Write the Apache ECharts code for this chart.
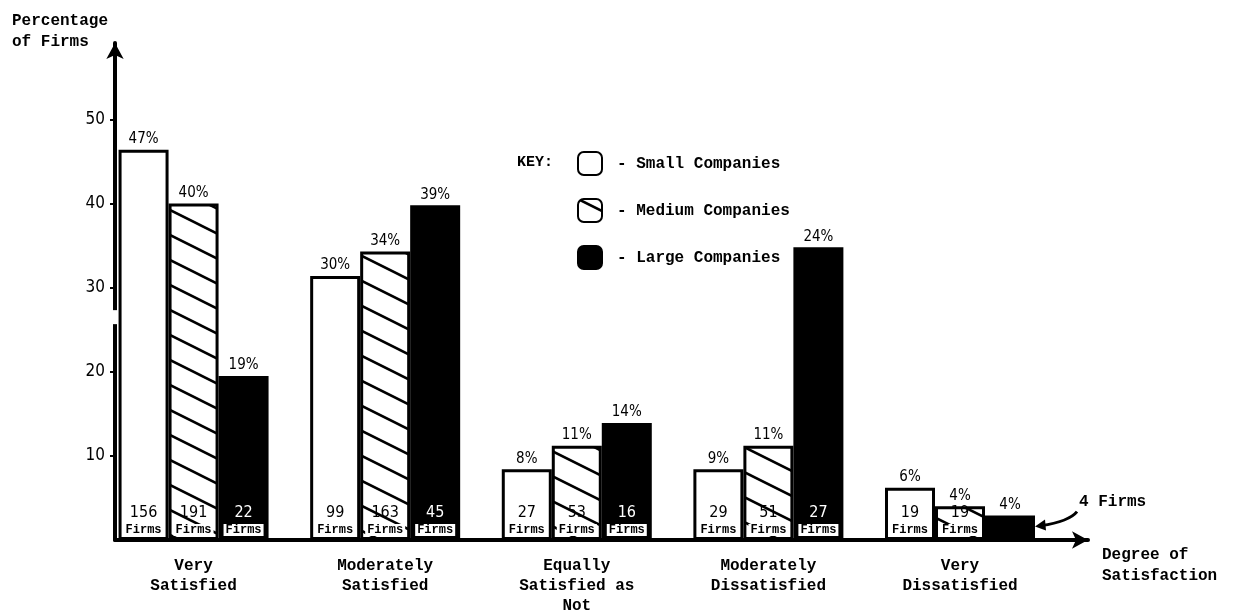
<!DOCTYPE html>
<html>
<head>
<meta charset="utf-8">
<script src="https://cdn.jsdelivr.net/npm/echarts@6/dist/echarts.min.js"></script>
<style>html,body{margin:0;padding:0;background:#fff}#c{width:1243px;height:616px}</style>
</head>
<body>
<div id="c"></div>
<script>
// ---- data ----
const categories = ['Very\nSatisfied', 'Moderately\nSatisfied', 'Equally\nSatisfied as\nNot', 'Moderately\nDissatisfied', 'Very\nDissatisfied'];
const seriesNames = ['Small Companies', 'Medium Companies', 'Large Companies'];
// drawn bar heights (percentage scale)
const smallHeights  = [46.4, 31.4, 8.4, 8.4, 6.2];
const mediumHeights = [40.0, 34.3, 11.2, 11.2, 4.0];
const largeHeights  = [19.5, 39.8, 13.9, 34.8, 2.9];
// percentage labels written above the bars
const smallPct  = ['47%', '30%', '8%', '9%', '6%'];
const mediumPct = ['40%', '34%', '11%', '11%', '4%'];
const largePct  = ['19%', '39%', '14%', '24%', '4%'];
// number of firms written inside the bars
const smallFirms  = [156, 99, 27, 29, 19];
const mediumFirms = [191, 163, 53, 51, 19];
const largeFirms  = [22, 45, 16, 27, 4];
const yTicks = [10, 20, 30, 40, 50];

const MONO = "'Liberation Mono','DejaVu Sans Mono',monospace";
const HAND = "'DejaVu Sans Condensed','DejaVu Sans',sans-serif";

function makeHatch() {
  const W = 50, H = 25;
  const c = document.createElement('canvas');
  c.width = W; c.height = H;
  const ctx = c.getContext('2d');
  ctx.fillStyle = '#fff';
  ctx.fillRect(0, 0, W, H);
  ctx.strokeStyle = '#000';
  ctx.lineWidth = 2.6;
  ctx.beginPath();
  for (let k = -1; k <= 1; k++) {
    ctx.moveTo(-3, k * H - 3 * H / W);
    ctx.lineTo(W + 3, k * H + H + 3 * H / W);
  }
  ctx.stroke();
  return c;
}
const hatch = { image: makeHatch(), repeat: 'repeat' };

const BW = 50;
function pts(arr) { return arr.map((v, i) => [i, v]); }

function mainSeries(name, heights, firms, style, dark) {
  return {
    name: name, type: 'bar', xAxisIndex: 0, yAxisIndex: 0,
    barWidth: BW, barGap: '0%',
    data: pts(heights).map((p, i) => {
      const d = { value: p };
      if (dark && firms[i] < 10) d.label = { show: false };
      return d;
    }),
    itemStyle: style,
    label: {
      show: true, position: 'insideBottom', distance: 3,
      formatter: (p) => '{n|' + firms[p.dataIndex] + '}\n{f|Firms}',
      rich: {
        n: { fontFamily: HAND, fontSize: 16, lineHeight: 20, color: dark ? '#fff' : '#000' },
        f: { fontFamily: MONO, fontWeight: 'bold', fontSize: 12, lineHeight: 14, color: '#000',
             backgroundColor: '#fff', padding: [0, 2, 0, 2] }
      }
    },
    z: 2
  };
}
function pctSeries(name, heights, pct) {
  return {
    name: name + ' pct', type: 'bar', xAxisIndex: 1, yAxisIndex: 0,
    barWidth: BW, barGap: '0%',
    data: pts(heights),
    itemStyle: { color: 'rgba(0,0,0,0)' },
    label: {
      show: true, position: 'top', distance: 3,
      formatter: (p) => pct[p.dataIndex],
      fontFamily: HAND, fontSize: 15, color: '#000'
    },
    silent: true, z: 3
  };
}

const chart = echarts.init(document.getElementById('c'));
const xBase = { type: 'value', min: -0.41, max: 4.668 };
chart.setOption({
  animation: false,
  backgroundColor: '#fff',
  title: [
    { text: 'Percentage\nof Firms', left: 7, top: 5,
      textStyle: { fontFamily: MONO, fontWeight: 'bold', fontSize: 16, lineHeight: 21, color: '#000' } },
    { text: 'KEY:', left: 512, top: 150,
      textStyle: { fontFamily: MONO, fontWeight: 'bold', fontSize: 15, color: '#000' } }
  ],
  legend: {
    data: seriesNames, orient: 'vertical', left: 572, top: 146,
    itemWidth: 24, itemHeight: 23, itemGap: 22, selectedMode: false,
    icon: 'roundRect',
    formatter: (n) => '- ' + n,
    textStyle: { fontFamily: MONO, fontWeight: 'bold', fontSize: 16, color: '#000', padding: [0, 0, 0, 10] }
  },
  grid: { left: 115, right: 155, top: 43, bottom: 75 },
  xAxis: [
    Object.assign({}, xBase, {
      name: 'Degree of\nSatisfaction', nameLocation: 'end', nameGap: 14,
      nameTextStyle: { fontFamily: MONO, fontWeight: 'bold', fontSize: 16, lineHeight: 21, color: '#000',
                       align: 'left', verticalAlign: 'top', padding: [4, 0, 0, 0] },
      axisLine: { show: true, onZero: false, symbol: ['none', 'arrow'], symbolSize: [13, 16],
                  lineStyle: { color: '#000', width: 4 } },
      axisTick: { show: false },
      splitLine: { show: false },
      axisLabel: { customValues: [0, 1, 2, 3, 4], formatter: (v) => categories[Math.round(v)],
                   margin: 16, fontFamily: MONO, fontWeight: 'bold', fontSize: 16, lineHeight: 20, color: '#000' }
    }),
    Object.assign({}, xBase, { show: false })
  ],
  yAxis: {
    type: 'value', min: 0, max: 59.1,
    axisLine: { show: true, onZero: false, symbol: ['none', 'arrow'], symbolSize: [13, 16],
                lineStyle: { color: '#000', width: 4 } },
    axisTick: { show: true, customValues: yTicks, length: 5, lineStyle: { color: '#000', width: 2 } },
    axisLabel: { customValues: yTicks, margin: 10, fontFamily: HAND, fontSize: 17, color: '#000' },
    splitLine: { show: false }
  },
  series: [
    mainSeries(seriesNames[0], smallHeights, smallFirms, { color: '#fff', borderColor: '#000', borderWidth: 3 }, false),
    mainSeries(seriesNames[1], mediumHeights, mediumFirms, { color: hatch, borderColor: '#000', borderWidth: 3 }, false),
    mainSeries(seriesNames[2], largeHeights, largeFirms, { color: '#000', borderColor: '#000', borderWidth: 3 }, true),
    pctSeries(seriesNames[0], smallHeights, smallPct),
    pctSeries(seriesNames[1], mediumHeights, mediumPct),
    pctSeries(seriesNames[2], largeHeights, largePct)
  ]
});

// annotation for the smallest bar ("4 Firms") and the axis break
const last = categories.length - 1;
const p = chart.convertToPixel({ gridIndex: 0 }, [last, largeHeights[last]]);
const bx = p[0] + 1.5 * BW + 4, by = p[1];
const brk = chart.convertToPixel({ gridIndex: 0 }, [-0.41, 26.5]);
chart.setOption({
  graphic: [
    { type: 'rect', shape: { x: brk[0] - 6, y: brk[1] - 7, width: 9, height: 14 },
      style: { fill: '#fff' }, z: 100 },
    { type: 'bezierCurve', shape: { x1: bx + 38, y1: by - 4, cpx1: bx + 30, cpy1: by + 6, x2: bx + 2, y2: by + 10 },
      style: { stroke: '#000', lineWidth: 3, fill: null }, z: 100 },
    { type: 'polygon', shape: { points: [[bx - 4, by + 11], [bx + 6, by + 4], [bx + 7, by + 15]] },
      style: { fill: '#000' }, z: 100 },
    { type: 'text', x: bx + 40, y: by - 22,
      style: { text: largeFirms[last] + ' Firms', fontFamily: MONO, fontWeight: 'bold', fontSize: 16, fill: '#000' }, z: 100 }
  ]
});
</script>
</body>
</html>
